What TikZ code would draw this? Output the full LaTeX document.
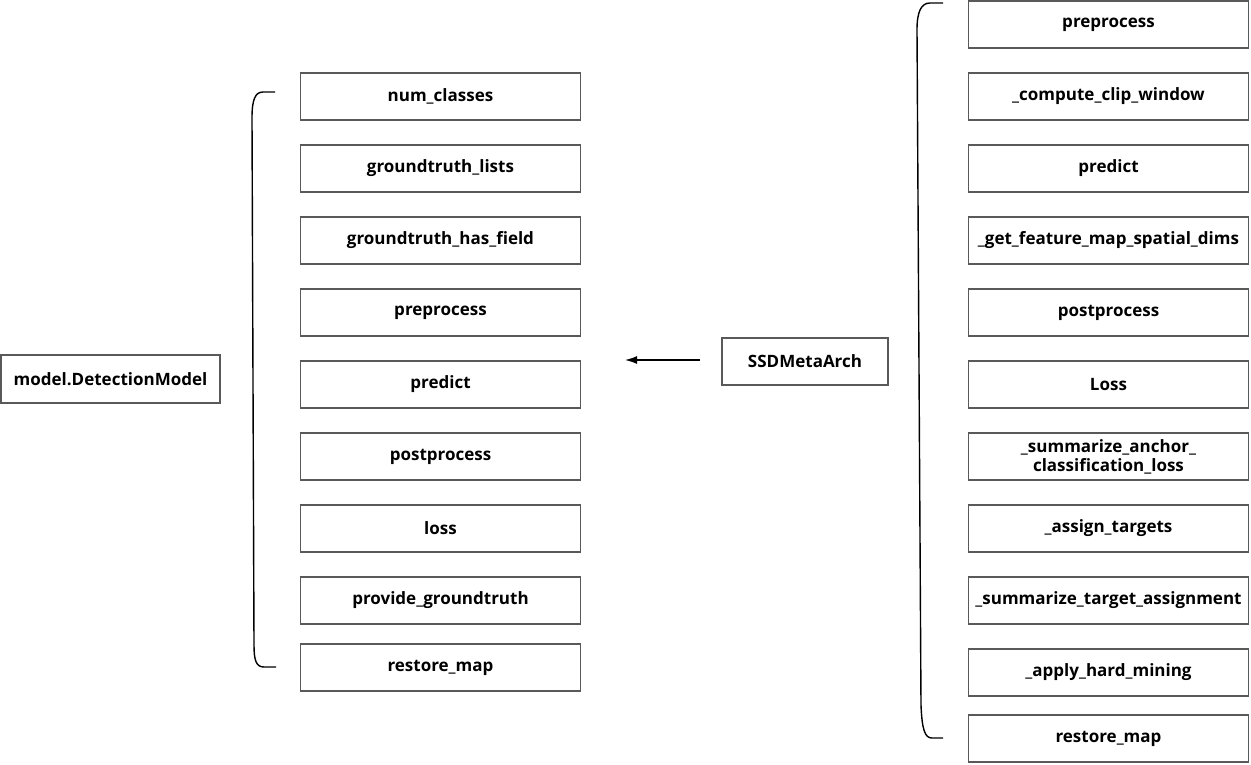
\documentclass[tikz,border=0pt]{standalone}
\usepackage{fontspec}
\setmainfont{Open Sans}
\usetikzlibrary{positioning,arrows.meta}

\begin{document}
\begin{tikzpicture}[x=1pt, y=-1pt, node distance = 25pt,
  method/.style = {draw=black!65, line width=1.1pt, outer sep=0pt, minimum width=280pt, minimum height=47pt, inner sep=0pt, align=center, font=\fontsize{17}{19}\selectfont\bfseries},
  bracket/.style = {line width=1.4pt}]
\useasboundingbox (0,0) rectangle (1251,764);

% base class and its methods
\node (base) [method, minimum width=219pt, minimum height=48pt] at (110.5,379) {model.DetectionModel};
\node (baseNum) [method] at (440.5,96.5) {num\_classes};
\node (baseGtLists) [method, below=of baseNum] {groundtruth\_lists};
\node (baseGtField) [method, below=of baseGtLists] {groundtruth\_has\_field};
\node (basePre) [method, below=of baseGtField] {preprocess};
\node (basePredict) [method, below=of basePre] {predict};
\node (basePost) [method, below=of basePredict] {postprocess};
\node (baseLoss) [method, below=of basePost] {loss};
\node (baseProvide) [method, below=of baseLoss] {provide\_groundtruth};
\node (baseRestore) [method, below=20pt of baseProvide] {restore\_map};
\draw[bracket] (275,92) -- (263,92) .. controls (255,92) and (252,100) .. (252,118) -- (254,645) .. controls (254,660) and (256,667) .. (264,667) -- (276,667);

% subclass and its methods
\node (ssd) [method, minimum width=166pt] at (805,361.5) {SSDMetaArch};
\coordinate (ssdTip) at (625,360);
\draw[line width=1.4pt, -{Latex[length=12pt,width=8pt]}] ([xshift=-22pt,yshift=1.5pt]ssd.west) -- (ssdTip);

\node (ssdPre) [method] at (1108.5,24.5) {preprocess};
\node (ssdClip) [method, below=of ssdPre] {\_compute\_clip\_window};
\node (ssdPredict) [method, below=of ssdClip] {predict};
\node (ssdDims) [method, below=of ssdPredict] {\_get\_feature\_map\_spatial\_dims};
\node (ssdPost) [method, below=of ssdDims] {postprocess};
\node (ssdLoss) [method, below=of ssdPost] {Loss};
\node (ssdSumAnchor) [method, below=of ssdLoss] {\_summarize\_anchor\_\\classification\_loss};
\node (ssdAssign) [method, below=of ssdSumAnchor] {\_assign\_targets};
\node (ssdSumTarget) [method, below=of ssdAssign] {\_summarize\_target\_assignment};
\node (ssdMining) [method, below=of ssdSumTarget] {\_apply\_hard\_mining};
\node (ssdRestore) [method, below=19pt of ssdMining] {restore\_map};
\draw[bracket] (943,3) -- (930,3) .. controls (921,3) and (917,12) .. (917,30) -- (921,705) .. controls (922,730) and (925,738) .. (932,738) -- (943,738);
\end{tikzpicture}
\end{document}
